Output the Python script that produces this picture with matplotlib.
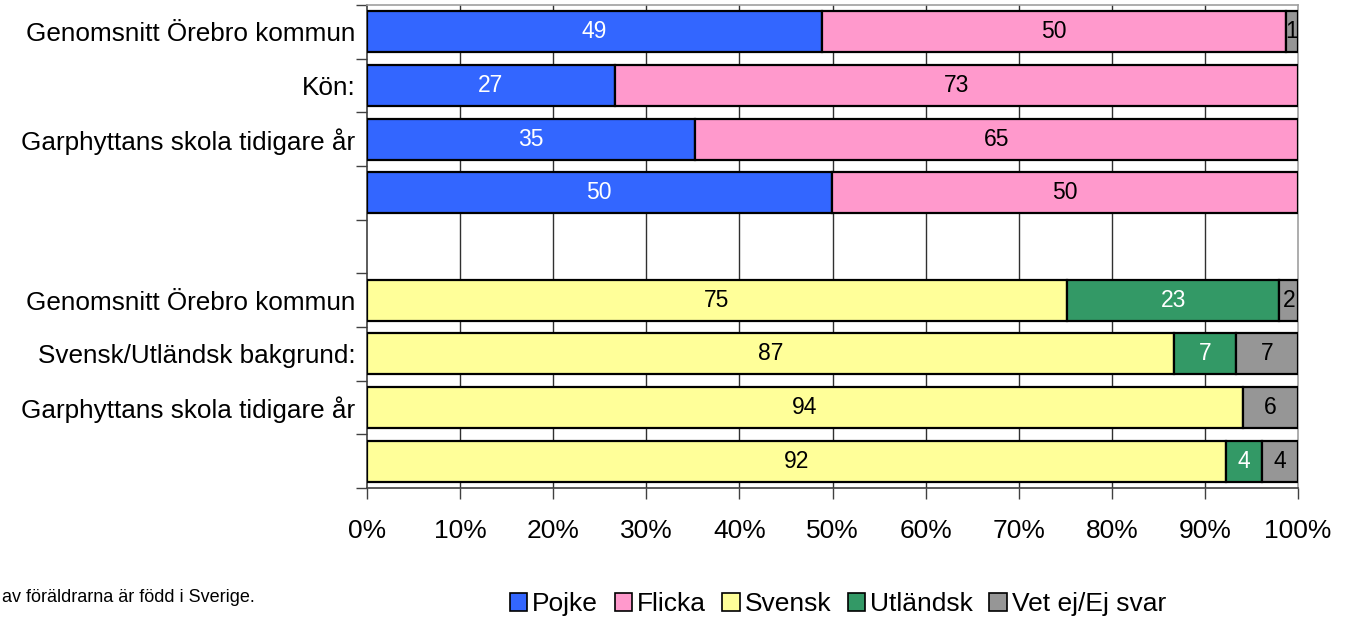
import matplotlib
matplotlib.use("Agg")
import matplotlib.pyplot as plt
from matplotlib.patches import Patch
import numpy as np

plt.rcParams['font.family'] = ['Liberation Sans', 'DejaVu Sans']

# Rows top to bottom (index 4 is an empty spacer row)
row_labels = ["Genomsnitt Örebro kommun", "Kön:", "Garphyttans skola tidigare år", "",
              "",
              "Genomsnitt Örebro kommun", "Svensk/Utländsk bakgrund:",
              "Garphyttans skola tidigare år", ""]

# Gender group (rows 0-3)
pojke  = [48.9, 26.6, 35.2, 49.9]
flicka = [49.8, 73.4, 64.8, 50.1]
vetej_kon = [1.3, 0.0, 0.0, 0.0]
pojke_lbl  = ["49", "27", "35", "50"]
flicka_lbl = ["50", "73", "65", "50"]
vetej_kon_lbl = ["1", "", "", ""]

# Background group (rows 5-8)
svensk    = [75.2, 86.7, 94.1, 92.3]
utlandsk  = [22.8, 6.6, 0.0, 3.8]
vetej_bak = [2.0, 6.7, 5.9, 3.9]
svensk_lbl   = ["75", "87", "94", "92"]
utlandsk_lbl = ["23", "7", "", "4"]
vetej_bak_lbl = ["2", "7", "6", "4"]

legend_labels = ["Pojke", "Flicka", "Svensk", "Utländsk", "Vet ej/Ej svar"]
colors = {"Pojke": "#3366FF", "Flicka": "#FF99CC", "Svensk": "#FFFF99",
          "Utländsk": "#339966", "Vet ej/Ej svar": "#969696"}
text_colors = {"Pojke": "white", "Flicka": "black", "Svensk": "black",
               "Utländsk": "white", "Vet ej/Ej svar": "black"}
xticks = [0, 10, 20, 30, 40, 50, 60, 70, 80, 90, 100]
xtick_labels = [f"{v}%" for v in xticks]

fig = plt.figure(figsize=(13.55, 6.19), dpi=100)
ax = fig.add_axes([367/1355, 1-488/619, (1298-367)/1355, (488-5)/619])

bar_h = 0.76

def draw_group(rows, series):
    left = np.zeros(len(rows))
    for name, vals, lbls in series:
        vals = np.array(vals)
        for i, (r, v, l) in enumerate(zip(rows, vals, lbls)):
            if v <= 0:
                continue
            ax.barh(r, v, left=left[i], height=bar_h, color=colors[name],
                    edgecolor="black", linewidth=1.6, zorder=3)
            if l:
                ax.text(left[i] + v/2, r, l, ha="center", va="center",
                        fontsize=16.5, color=text_colors[name], zorder=4)
        left += vals

draw_group([0, 1, 2, 3], [("Pojke", pojke, pojke_lbl),
                          ("Flicka", flicka, flicka_lbl),
                          ("Vet ej/Ej svar", vetej_kon, vetej_kon_lbl)])
draw_group([5, 6, 7, 8], [("Svensk", svensk, svensk_lbl),
                          ("Utländsk", utlandsk, utlandsk_lbl),
                          ("Vet ej/Ej svar", vetej_bak, vetej_bak_lbl)])

ax.set_xlim(0, 100)
ax.set_ylim(8.5, -0.5)
ax.set_xticks(xticks)
ax.set_xticklabels(xtick_labels, fontsize=19)
ax.tick_params(axis="x", length=8, width=1, pad=14, direction="out", color="#404040")
ax.set_yticks(range(len(row_labels)))
ax.set_yticklabels(row_labels, fontsize=18.8)
ax.tick_params(axis="y", which="major", length=0, pad=8.5)
ax.set_yticks(np.arange(-0.5, 9.0, 1.0), minor=True)
ax.tick_params(axis="y", which="minor", length=8, width=1, color="#404040")

for x in xticks[1:-1]:
    ax.axvline(x, color="#303030", linewidth=1, zorder=1)

ax.spines["left"].set_color("#404040")
ax.spines["bottom"].set_color("#404040")
ax.spines["top"].set_color("#a0a0a0")
ax.spines["right"].set_color("#a0a0a0")
for s in ax.spines.values():
    s.set_linewidth(1.2)

handles = [Patch(facecolor=colors[n], edgecolor="black", linewidth=1.2) for n in legend_labels]
fig.legend(handles, legend_labels, loc="center", bbox_to_anchor=(838/1355, 1-604/619),
           ncol=5, frameon=False, fontsize=19, handlelength=0.65, handleheight=0.65,
           handletextpad=0.2, columnspacing=0.62, borderaxespad=0)

fig.text(2/1355, 1-597/619, "av föräldrarna är född i Sverige.", fontsize=13,
         ha="left", va="center")

fig.savefig("out.png", dpi=100)
